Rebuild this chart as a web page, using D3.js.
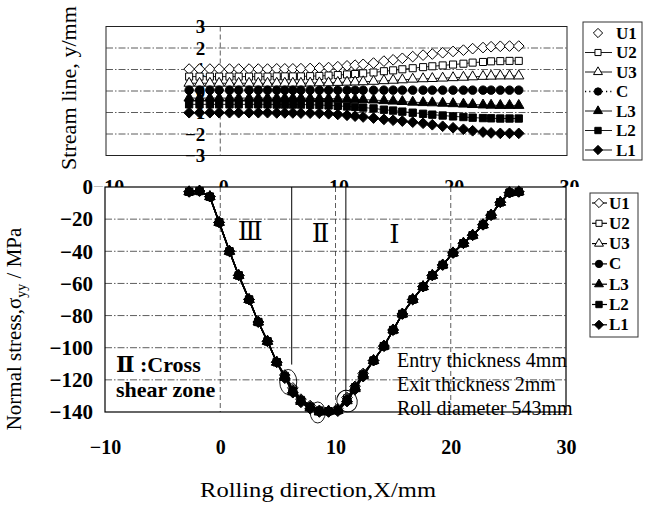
<!DOCTYPE html>
<html><head><meta charset="utf-8">
<script src="https://cdn.jsdelivr.net/npm/d3@7"></script>
<style>
body{margin:0;background:#fff;}
svg text{font-family:"Liberation Serif","Times New Roman","DejaVu Serif",serif;fill:#000;}
</style></head><body>
<svg id="c" width="645" height="508"></svg>
<script>
// ---------------- DATA ----------------
const xPos = [-2.7,-1.8,-0.9,-0.1,0.8,1.6,2.5,3.3,4.1,4.9,5.6,6.3,7.0,7.8,8.6,9.4,10.2,11.0,11.7,12.4,13.3,14.2,15.0,15.8,16.7,17.6,18.4,19.3,20.2,21.1,21.9,22.8,23.5,24.3,25.1,25.9];
const seriesNames = ["U1","U2","U3","C","L3","L2","L1"];

// stream lines y (mm)
const streamU1 = [1.02,1.02,1.02,1.02,1.02,1.02,1.02,1.02,1.02,1.03,1.03,1.03,1.04,1.05,1.07,1.09,1.13,1.17,1.20,1.24,1.30,1.39,1.45,1.52,1.60,1.67,1.72,1.78,1.84,1.90,1.97,2.02,2.06,2.08,2.09,2.09];
const streamU2 = [0.67,0.67,0.67,0.67,0.67,0.67,0.67,0.67,0.67,0.68,0.68,0.68,0.68,0.69,0.70,0.72,0.74,0.77,0.79,0.82,0.86,0.92,0.96,1.01,1.06,1.11,1.15,1.19,1.23,1.27,1.32,1.35,1.38,1.39,1.40,1.40];
const streamU3 = [0.36,0.36,0.36,0.36,0.36,0.36,0.36,0.36,0.36,0.36,0.36,0.36,0.36,0.37,0.38,0.38,0.40,0.41,0.42,0.43,0.45,0.48,0.50,0.52,0.55,0.57,0.58,0.60,0.62,0.64,0.66,0.68,0.69,0.70,0.70,0.70];
const streamC  = [0.04,0.04,0.04,0.04,0.04,0.04,0.04,0.04,0.04,0.04,0.04,0.04,0.04,0.04,0.04,0.04,0.04,0.04,0.04,0.04,0.04,0.04,0.04,0.04,0.04,0.04,0.04,0.04,0.04,0.04,0.04,0.04,0.04,0.04,0.04,0.04];
const streamL3 = [-0.33,-0.33,-0.33,-0.33,-0.33,-0.33,-0.33,-0.33,-0.33,-0.33,-0.33,-0.33,-0.33,-0.34,-0.35,-0.35,-0.37,-0.38,-0.39,-0.40,-0.42,-0.45,-0.47,-0.49,-0.52,-0.54,-0.55,-0.57,-0.59,-0.61,-0.63,-0.65,-0.66,-0.67,-0.67,-0.67];
const streamL2 = [-0.62,-0.62,-0.62,-0.62,-0.62,-0.62,-0.62,-0.62,-0.62,-0.63,-0.63,-0.63,-0.63,-0.64,-0.65,-0.67,-0.69,-0.72,-0.74,-0.77,-0.81,-0.87,-0.91,-0.96,-1.01,-1.06,-1.10,-1.14,-1.18,-1.21,-1.24,-1.26,-1.27,-1.28,-1.28,-1.28];
const streamL1 = [-1.01,-1.01,-1.01,-1.01,-1.01,-1.01,-1.01,-1.01,-1.01,-1.02,-1.02,-1.02,-1.03,-1.03,-1.04,-1.06,-1.09,-1.13,-1.17,-1.21,-1.26,-1.32,-1.36,-1.40,-1.45,-1.50,-1.57,-1.64,-1.71,-1.78,-1.85,-1.91,-1.95,-1.97,-1.97,-1.97];

// normal stress sigma_yy (MPa)
const stressU1 = [-3,-2.5,-6,-22,-40,-55,-70,-84,-96,-109,-117,-125,-132,-136,-139,-139.5,-138,-131,-124,-116,-108,-99,-89,-79,-70,-62,-55,-48.5,-41,-35,-30,-23.5,-17.5,-9.5,-3.5,-3];
const stressU2 = [-3,-2.5,-6,-22,-40,-55,-70,-84,-96,-109,-117.5,-126,-132.5,-136.5,-139,-139.5,-138.5,-131.5,-124.5,-116.5,-108,-99,-89,-79,-70,-62,-55,-48.5,-41,-35,-30,-23.5,-17.5,-9.5,-3.5,-3];
const stressU3 = [-3,-2.5,-6,-22,-40,-55,-70,-84,-96,-109,-118,-126.5,-133,-137,-139.5,-139.5,-139,-132,-125,-117,-108,-99,-89,-79,-70,-62,-55,-48.5,-41,-35,-30,-23.5,-17.5,-9.5,-3.5,-3];
const stressC  = [-3,-2.5,-6,-22,-40,-55,-70,-84,-96,-109,-118,-127,-133,-137,-139.5,-139.5,-139,-132.5,-125,-117,-108,-99,-89,-79,-70,-62,-55,-48.5,-41,-35,-30,-23.5,-17.5,-9.5,-3.5,-3];
const stressL3 = [-3,-2.5,-6,-22,-40,-55,-70,-84,-96,-109,-118.5,-127.5,-133.5,-137.5,-140,-139.5,-139,-133,-125.5,-117.5,-108,-99,-89,-79,-70,-62,-55,-48.5,-41,-35,-30,-23.5,-17.5,-9.5,-3.5,-3];
const stressL2 = [-3,-2.5,-6,-22,-40,-55,-70,-84,-96,-109,-118,-127,-133,-137,-139.5,-139.5,-139,-132.5,-125,-117,-108,-99,-89,-79,-70,-62,-55,-48.5,-41,-35,-30,-23.5,-17.5,-9.5,-3.5,-3];
const stressL1 = [-3,-2.5,-6,-22,-40,-55,-70,-84,-96,-109,-119,-128,-134,-138,-140,-140,-139.5,-133.5,-126,-118,-108,-99,-89,-79,-70,-62,-55,-48.5,-41,-35,-30,-23.5,-17.5,-9.5,-3.5,-3];

const xTicks = [-10,0,10,20,30];
const streamTicks = [3,2,1,0,-1,-2,-3];
const streamGrid = [2,1,0,-1,-2];
const stressTicks = [0,-20,-40,-60,-80,-100,-120,-140];
const stressGridY = [-20,-40,-60,-80,-100,-120];
const stressGridX = [0,10,20];
const zoneBounds = [[6.2,-110.5],[10.9,-130.5]];
const zoneLabels = [["Ⅲ",2.6,-33],["Ⅱ",8.7,-34],["Ⅰ",15.1,-35]];
const circled = [[5.9,-121.3,8.5,12.5,0],[8.46,-140.3,7.5,10.5,0],[11.0,-133.2,10,11,-30]];
const infoLines = ["Entry thickness 4mm","Exit thickness 2mm","Roll diameter 543mm"];
const crossLines = ["Ⅱ :Cross","shear zone"];

// ---------------- CHART ----------------
const svg = d3.select("#c");
const x = d3.scaleLinear().domain([-10,30]).range([105,566]);
const yT = d3.scaleLinear().domain([-3,3]).range([155.5,26.5]);
const yB = d3.scaleLinear().domain([-140,0]).range([412,187]);

const streamData = {U1:streamU1,U2:streamU2,U3:streamU3,C:streamC,L3:streamL3,L2:streamL2,L1:streamL1};
const stressData = {U1:stressU1,U2:stressU2,U3:stressU3,C:stressC,L3:stressL3,L2:stressL2,L1:stressL1};

const diamondType = {draw(ctx,size){const s=Math.sqrt(size)/1.4; ctx.moveTo(0,-s);ctx.lineTo(s,0);ctx.lineTo(0,s);ctx.lineTo(-s,0);ctx.closePath();}};
const markerDef = {
  U1:{type:diamondType,size:56,fill:"#fff"},
  U2:{type:d3.symbolSquare,size:50,fill:"#fff"},
  U3:{type:d3.symbolTriangle,size:46,fill:"#fff"},
  C:{type:d3.symbolCircle,size:56,fill:"#000"},
  L3:{type:d3.symbolTriangle,size:46,fill:"#000"},
  L2:{type:d3.symbolSquare,size:54,fill:"#000"},
  L1:{type:diamondType,size:56,fill:"#000"}
};
const topLineStyle = {U1:null,U2:"",U3:"",C:"1.2,3",L3:"",L2:"",L1:""};
const gridDash = "7,2,1.5,2";
const boldFont = '"Liberation Serif",serif';

// ===== TOP CHART =====
const topG = svg.append("g");
topG.append("rect").attr("x",x(-10)+1).attr("y",yT(3)).attr("width",x(30)-x(-10)).attr("height",yT(-3)-yT(3))
  .attr("fill","#fff").attr("stroke","#222").attr("stroke-width",1);
topG.selectAll(".hg").data(streamGrid).join("line")
  .attr("x1",x(-10)+1).attr("x2",x(30)+1).attr("y1",d=>yT(d)).attr("y2",d=>yT(d))
  .attr("stroke","#333").attr("stroke-width",0.8).attr("stroke-dasharray",gridDash);
topG.append("line").attr("x1",x(0)).attr("x2",x(0)).attr("y1",yT(3)).attr("y2",yT(-3))
  .attr("stroke","#333").attr("stroke-width",0.8).attr("stroke-dasharray","5,3");

// top y tick labels (axis crosses at x=0)
const axT = topG.append("g").attr("transform",`translate(${x(0)-12},0)`)
  .call(d3.axisLeft(yT).tickValues(streamTicks).tickSize(0).tickPadding(3).tickFormat(d3.format("d")));
axT.select(".domain").remove();
axT.selectAll("text").attr("font-size",19).attr("font-weight","bold").style("font-family",boldFont);

// top chart x labels, half hidden by the lower plot
svg.append("defs").append("clipPath").attr("id","clipTop").append("rect").attr("x",0).attr("y",0).attr("width",645).attr("height",yB(0));
const axTx = svg.append("g").attr("clip-path","url(#clipTop)").append("g").attr("transform",`translate(3,${yT(-3)})`)
  .call(d3.axisBottom(x).tickValues(xTicks).tickSize(0).tickPadding(24).tickFormat(d3.format("d")));
axTx.select(".domain").remove();
axTx.selectAll("text").attr("font-size",20).attr("font-weight","bold").style("font-family",boldFont);

// stream lines
seriesNames.forEach(n=>{
  const vals = streamData[n];
  const pts = xPos.map((xv,i)=>[xv,vals[i]]);
  if(topLineStyle[n]!==null){
    topG.append("path").datum(pts)
      .attr("d",d3.line().x(d=>x(d[0])).y(d=>yT(d[1])))
      .attr("fill","none").attr("stroke","#000").attr("stroke-width",n==="C"?1.4:0.9)
      .attr("stroke-dasharray",topLineStyle[n]||null);
  }
  const m = markerDef[n];
  topG.selectAll(null).data(pts).join("path")
    .attr("transform",d=>`translate(${x(d[0])},${yT(d[1])})`)
    .attr("d",d3.symbol().type(m.type).size(m.size))
    .attr("fill",m.fill).attr("stroke","#000").attr("stroke-width",1);
});

// top legend
const lgT = svg.append("g");
lgT.append("rect").attr("x",583).attr("y",22).attr("width",59).attr("height",138).attr("fill","#fff").attr("stroke","#333").attr("stroke-width",1);
seriesNames.forEach((n,i)=>{
  const yy = 33 + i*19.5;
  if(topLineStyle[n]!==null){
    lgT.append("line").attr("x1",585).attr("x2",612).attr("y1",yy).attr("y2",yy)
      .attr("stroke","#000").attr("stroke-width",n==="C"?1.4:0.9).attr("stroke-dasharray",topLineStyle[n]||null);
  }
  const m = markerDef[n];
  lgT.append("path").attr("transform",`translate(598,${yy})`).attr("d",d3.symbol().type(m.type).size(m.size*0.75))
    .attr("fill",m.fill).attr("stroke","#000").attr("stroke-width",1);
  lgT.append("text").attr("x",616).attr("y",yy+5.5).attr("font-size",17).attr("font-weight","bold").text(n);
});

// ===== BOTTOM CHART =====
const botG = svg.append("g");
botG.append("rect").attr("x",x(-10)).attr("y",yB(0)).attr("width",x(30)-x(-10)).attr("height",yB(-140)-yB(0))
  .attr("fill","#fff").attr("stroke","none");
botG.selectAll(".bhg").data(stressGridY).join("line")
  .attr("x1",x(-10)).attr("x2",x(30)).attr("y1",d=>yB(d)).attr("y2",d=>yB(d))
  .attr("stroke","#333").attr("stroke-width",0.8).attr("stroke-dasharray",gridDash);
botG.selectAll(".bvg").data(stressGridX).join("line")
  .attr("x1",d=>x(d)).attr("x2",d=>x(d)).attr("y1",yB(0)).attr("y2",yB(-140))
  .attr("stroke","#333").attr("stroke-width",0.8).attr("stroke-dasharray","5,3");
botG.append("rect").attr("x",x(-10)).attr("y",yB(0)).attr("width",x(30)-x(-10)).attr("height",yB(-140)-yB(0))
  .attr("fill","none").attr("stroke","#000").attr("stroke-width",1.2);

// zone boundaries
botG.selectAll(".zb").data(zoneBounds).join("line")
  .attr("x1",d=>x(d[0])).attr("x2",d=>x(d[0])).attr("y1",yB(0)).attr("y2",d=>yB(d[1]))
  .attr("stroke","#000").attr("stroke-width",1);
botG.selectAll(".zl").data(zoneLabels).join("text")
  .attr("x",d=>x(d[1])).attr("y",d=>yB(d[2])).attr("text-anchor","middle")
  .attr("font-size",26).text(d=>d[0]);

// axes
const axBy = botG.append("g").attr("transform",`translate(${x(-10)},0)`)
  .call(d3.axisLeft(yB).tickValues(stressTicks).tickSize(0).tickPadding(12).tickFormat(d3.format("d")));
axBy.select(".domain").remove();
axBy.selectAll("text").attr("font-size",21).attr("font-weight","bold").style("font-family",boldFont);
const axBx = botG.append("g").attr("transform",`translate(0,${yB(-140)})`)
  .call(d3.axisBottom(x).tickValues(xTicks).tickSize(0).tickPadding(28).tickFormat(d3.format("d")));
axBx.select(".domain").remove();
axBx.selectAll("text").attr("font-size",20).attr("font-weight","bold").style("font-family",boldFont);

// stress series
const drawOrder = ["U1","U2","U3","C","L3","L1","L2"];
drawOrder.forEach(n=>{
  const vals = stressData[n];
  const pts = xPos.map((xv,i)=>[xv,vals[i]]);
  botG.append("path").datum(pts)
    .attr("d",d3.line().x(d=>x(d[0])).y(d=>yB(d[1])))
    .attr("fill","none").attr("stroke","#000").attr("stroke-width",1.4);
  const m = markerDef[n];
  botG.selectAll(null).data(pts).join("path")
    .attr("transform",d=>`translate(${x(d[0])},${yB(d[1])})`)
    .attr("d",d3.symbol().type(m.type).size(m.size))
    .attr("fill",n==="L2"?"#000":m.fill).attr("stroke","#000").attr("stroke-width",1);
});

// circled transition points
botG.selectAll(".ci").data(circled).join("ellipse")
  .attr("transform",d=>`translate(${x(d[0])},${yB(d[1])}) rotate(${d[4]})`)
  .attr("rx",d=>d[2]).attr("ry",d=>d[3]).attr("fill","none").attr("stroke","#000").attr("stroke-width",0.9);

// annotation texts
botG.selectAll(".cr").data(crossLines).join("text")
  .attr("x",116).attr("y",(d,i)=>372+i*25).attr("font-size",22).attr("font-weight","bold").text(d=>d);
botG.selectAll(".inf").data(infoLines).join("text")
  .attr("x",397).attr("y",(d,i)=>367+i*24).attr("font-size",20).text(d=>d);

// bottom legend
const lgB = svg.append("g");
lgB.append("rect").attr("x",590).attr("y",193).attr("width",48).attr("height",144).attr("fill","#fff").attr("stroke","#333").attr("stroke-width",1);
seriesNames.forEach((n,i)=>{
  const yy = 203 + i*20.3;
  lgB.append("line").attr("x1",592).attr("x2",607).attr("y1",yy).attr("y2",yy).attr("stroke","#000").attr("stroke-width",1.2);
  const m = markerDef[n];
  lgB.append("path").attr("transform",`translate(599,${yy})`).attr("d",d3.symbol().type(m.type).size(m.size*0.75))
    .attr("fill",m.fill).attr("stroke","#000").attr("stroke-width",1);
  lgB.append("text").attr("x",609).attr("y",yy+5.5).attr("font-size",17).attr("font-weight","bold").text(n);
});

// axis titles
svg.append("text").attr("transform","translate(76,88) rotate(-90)").attr("text-anchor","middle")
  .attr("font-size",21).attr("textLength",164).attr("lengthAdjust","spacingAndGlyphs").text("Stream line, y/mm");
const yt = svg.append("text").attr("transform","translate(21,329) rotate(-90)").attr("text-anchor","middle").attr("font-size",21);
yt.append("tspan").text("Normal stress,σ");
yt.append("tspan").attr("font-size",14).attr("dy",5).text("yy");
yt.append("tspan").attr("dy",-5).text(" / MPa");
svg.append("text").attr("x",318).attr("y",497).attr("text-anchor","middle").attr("font-size",21)
  .attr("textLength",236).attr("lengthAdjust","spacingAndGlyphs").text("Rolling direction,X/mm");
</script>
</body></html>
